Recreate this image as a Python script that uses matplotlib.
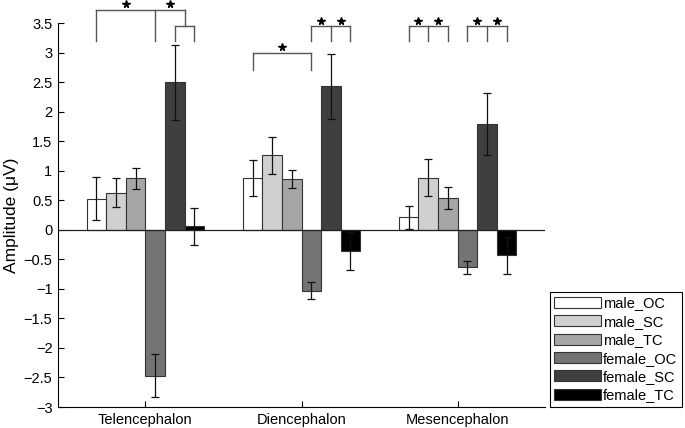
import numpy as np
import matplotlib.pyplot as plt

plt.rcParams['font.family'] = ['Liberation Sans', 'DejaVu Sans']

# Regionen und Bedingungen
regions = ['Telencephalon', 'Diencephalon', 'Mesencephalon']
conditions = ['male_OC', 'male_SC', 'male_TC', 'female_OC', 'female_SC', 'female_TC']
colors = ['#ffffff', '#d0d0d0', '#a6a6a6', '#747474', '#3f3f3f', '#000000']

# Mittelwerte (uV), pro Bedingung: Tel, Di, Mes
male_OC = [0.53, 0.88, 0.21]
male_SC = [0.63, 1.26, 0.88]
male_TC = [0.875, 0.86, 0.54]
female_OC = [-2.47, -1.03, -0.63]
female_SC = [2.50, 2.43, 1.79]
female_TC = [0.06, -0.36, -0.43]

# Standardfehler
male_OC_err = [0.37, 0.30, 0.20]
male_SC_err = [0.24, 0.31, 0.315]
male_TC_err = [0.18, 0.16, 0.185]
female_OC_err = [0.36, 0.14, 0.11]
female_SC_err = [0.635, 0.55, 0.53]
female_TC_err = [0.31, 0.32, 0.31]

means = [male_OC, male_SC, male_TC, female_OC, female_SC, female_TC]
errs = [male_OC_err, male_SC_err, male_TC_err, female_OC_err, female_SC_err, female_TC_err]

# Signifikanzklammern: (Region, Beinpositionen (Balkenindex), Hoehe, Beinenden, Sterne?)
brackets = [
    (0, [0, 3, 4.5], 3.73, [3.20, 3.20, 3.45], True),
    (0, [4, 5], 3.45, [3.20, 3.20], False),
    (1, [0, 3], 3.00, [2.71, 2.71], True),
    (1, [3, 4, 5], 3.45, [3.20, 3.20, 3.20], True),
    (2, [0, 1, 2], 3.45, [3.20, 3.20, 3.20], True),
    (2, [3, 4, 5], 3.45, [3.20, 3.20, 3.20], True),
]
star_offset = 0.09

w = 0.1254
x = np.arange(1, len(regions) + 1)

fig = plt.figure(figsize=(6.85, 4.28), dpi=100)
ax = fig.add_axes([0.0847, 0.049, 0.7109, 0.897])

handles = []
for i, (m, e) in enumerate(zip(means, errs)):
    pos = x + (i - 2.5) * w
    b = ax.bar(pos, m, w, color=colors[i], edgecolor='#333333', linewidth=0.8,
               label=conditions[i], zorder=2)
    handles.append(b)
    ax.errorbar(pos, m, yerr=e, fmt='none', ecolor='#111111', elinewidth=0.9,
                capsize=2.7, capthick=0.9, zorder=3)

ax.axhline(0, color='#222222', linewidth=0.9, zorder=4)

for r, legs, top, ends, stars in brackets:
    xs = [x[r] + (k - 2.5) * w for k in legs]
    ax.plot([xs[0], xs[-1]], [top, top], color='#555555', lw=1.0, clip_on=False, zorder=5)
    for xx, yy in zip(xs, ends):
        ax.plot([xx, xx], [yy, top], color='#555555', lw=1.0, clip_on=False, zorder=5)
    if stars:
        for a, c in zip(xs[:-1], xs[1:]):
            ax.plot((a + c) / 2, top + star_offset, marker='*', color='k', ms=5.5,
                    clip_on=False, zorder=6)

ax.set_xlim(0.44, 3.56)
ax.set_ylim(-3, 3.5)
ax.set_yticks(np.arange(-3, 3.51, 0.5))
ax.set_yticklabels([('%g' % v).replace('-', '\u2212') for v in np.arange(-3, 3.51, 0.5)])
ax.set_xticks(x)
ax.set_xticklabels(regions)
ax.tick_params(direction='in', length=4, width=0.8, labelsize=10.5, pad=4)
ax.spines['top'].set_visible(False)
ax.spines['right'].set_visible(False)
for s in ['left', 'bottom']:
    ax.spines[s].set_linewidth(0.8)
ax.set_ylabel('Amplitude (\u03bcV)', fontsize=12.5, labelpad=3)

leg = fig.legend(handles=handles, loc='lower left', bbox_to_anchor=(0.803, 0.0498),
                 fancybox=False, edgecolor='black', framealpha=1, fontsize=10.5,
                 handlelength=3.2, handleheight=0.8, handletextpad=0.15,
                 labelspacing=0.3, borderpad=0.3, borderaxespad=0)
leg.get_frame().set_linewidth(0.8)

plt.savefig('out.png', dpi=100)
